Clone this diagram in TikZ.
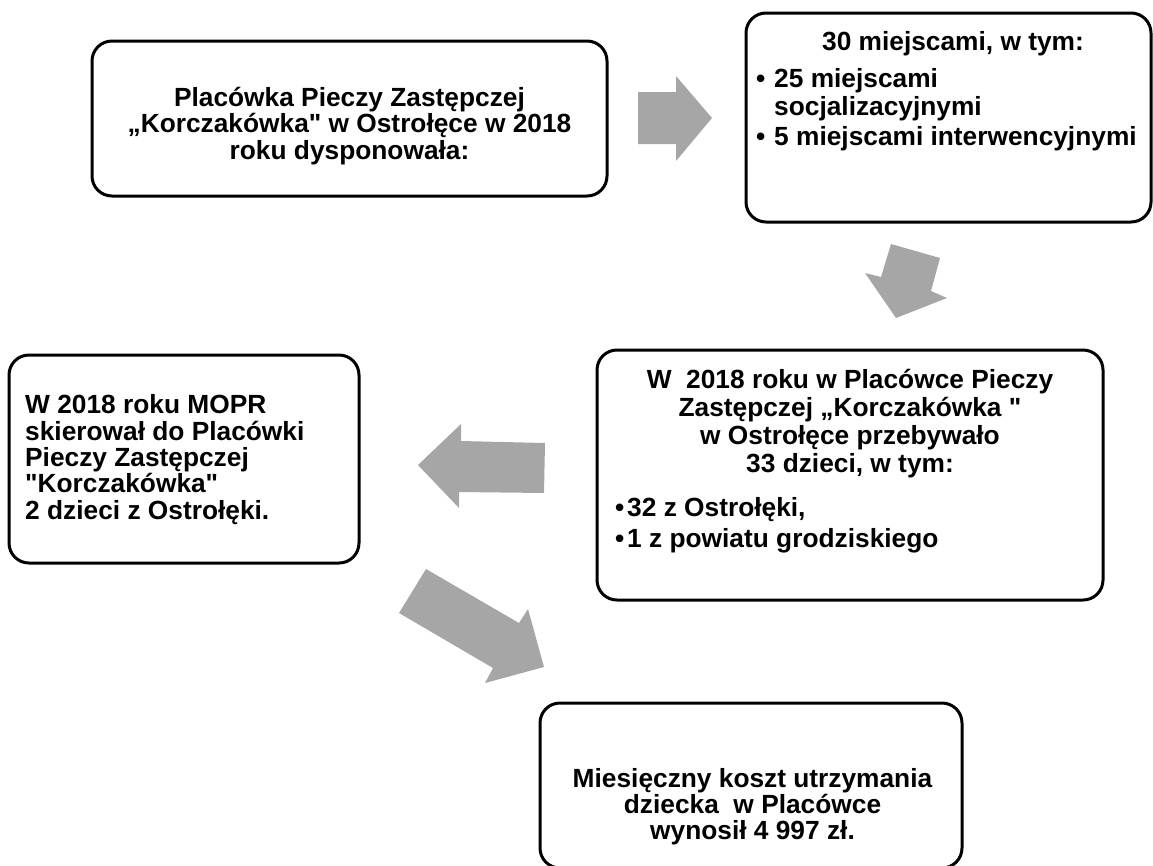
\documentclass[tikz,border=0pt]{standalone}
\usepackage{fontspec}
\setmainfont{Liberation Sans}[Ligatures=TeXOff]
\usepackage{tikz}
\definecolor{arrowgray}{RGB}{166,166,166}
\newcommand{\bul}[1][18pt]{\makebox[#1][l]{•}}
\tikzset{
  box/.style={draw, line width=3pt, rounded corners=20pt, inner sep=0pt},
  txt/.style={font=\bfseries\fontsize{26.3}{#1}\selectfont, inner sep=0pt},
  txt/.default=26.5,
  blockarrow/.style={fill=arrowgray}
}

\begin{document}
\begin{tikzpicture}[x=1pt,y=-1pt]
\useasboundingbox (0,0) rectangle (1153,865);
%BOXES
\node[box, minimum width=515pt, minimum height=155pt] (plac) at (349.5,118.5) {};
\node[box, minimum width=405pt, minimum height=209pt] (miejsca) at (948.5,117.5) {};
\node[box, minimum width=506pt, minimum height=250pt] (dzieci) at (850,475) {};
\node[box, minimum width=350pt, minimum height=208pt] (mopr) at (184,459) {};
\node[box, minimum width=422pt, minimum height=165pt] (koszt) at (751,785.5) {};
%TEXT (base = last line)
\node[txt, anchor=base, align=center] (placTxt) at (349.5,159)
  {Placówka Pieczy Zastępczej\\„Korczakówka" w Ostrołęce w 2018\\roku dysponowała:};
\node[txt, anchor=base] (miejscaTxt) at (953,50) {30 miejscami, w tym:};
\node[txt=28, anchor=base west, align=left] (miejscaLista) at (756,145)
  {\bul 25 miejscami\\\hspace*{18pt}socjalizacyjnymi\\[2pt]\bul 5 miejscami interwencyjnymi};
\node[txt=28.1, anchor=base, align=center] (dzieciTxt) at (850,472.8)
  {W\ \ 2018 roku w Placówce Pieczy\\Zastępczej „Korczakówka "\\w Ostrołęce przebywało\\33 dzieci, w tym:};
\node[txt=31.6, anchor=base west, align=left] (dzieciLista) at (615,547.6)
  {\bul[12pt]32 z Ostrołęki,\\\bul[12pt]1 z powiatu grodziskiego};
\node[txt=26.3, anchor=base west, align=left] (moprTxt) at (25,519)
  {W 2018 roku MOPR\\skierował do Placówki\\Pieczy Zastępczej\\"Korczakówka"\\2 dzieci z Ostrołęki.};
\node[txt=26, anchor=base, align=center] (kosztTxt) at (752.5,839)
  {Miesięczny koszt utrzymania\\dziecka\ \ w Placówce\\wynosił 4 997 zł.};
%ARROWS
\fill[blockarrow] (638,92) -- (676,92) -- (676,76) -- (712,118) -- (676,161) -- (676,144) -- (638,144) -- cycle;
\fill[blockarrow] (891,244) -- (940,258) -- (931,291) -- (947,298) -- (896,318) -- (865,273) -- (881,277) -- cycle;
\fill[blockarrow] (545,443) -- (461,441) -- (461,424) -- (418,465) -- (459,508) -- (459,492) -- (544,493) -- cycle;
\fill[blockarrow] (426,569) -- (519,623) -- (528,609) -- (544,667) -- (485,683) -- (493,668) -- (399,613) -- cycle;
\end{tikzpicture}
\end{document}
